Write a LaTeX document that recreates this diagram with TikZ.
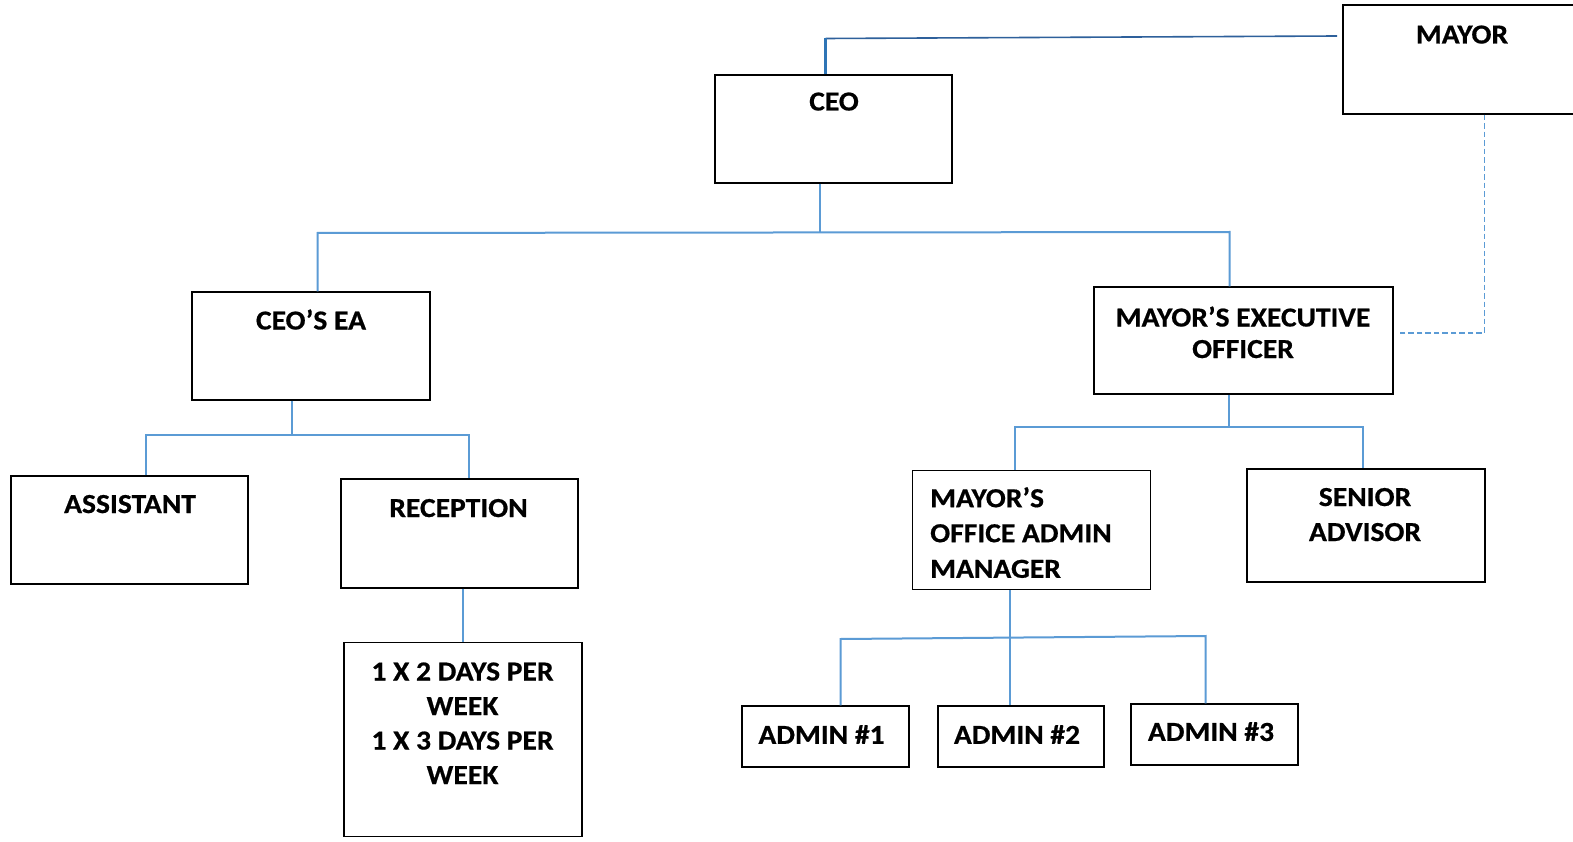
\documentclass[tikz,border=0pt]{standalone}
\usepackage{fontspec}
\setmainfont{Carlito}
\newfontfamily\chartfont{Carlito}[FakeStretch=1.075,BoldFeatures={FakeBold=0.6}]
\begin{document}
\begin{tikzpicture}[x=1pt,y=-1pt,
  box/.style={draw=black,line width=1.3pt,fill=white,inner sep=0pt},
  lbl/.style={anchor=base,inner sep=0pt,font=\chartfont\fontsize{27.5}{32}\selectfont\bfseries},
  lbll/.style={lbl,anchor=base west},
  conn/.style={draw={rgb,255:red,91;green,155;blue,213},line width=2pt},
  dotconn/.style={conn,line width=1.6pt,dash pattern=on 5.5pt off 3pt},
  topconn/.style={draw={rgb,255:red,46;green,96;blue,155},line width=1.6pt},
  topdrop/.style={draw={rgb,255:red,46;green,117;blue,182},line width=2.2pt}]
\clip (0,0) rectangle (1573,842);
\fill[white] (0,0) rectangle (1573,842);

% boxes (centre, size)
\node[box,minimum width=240,minimum height=109] (mayor) at (1463,59.5) {};
\node[box,minimum width=237,minimum height=108] (ceo)   at (833.5,129) {};
\node[box,minimum width=238,minimum height=108] (ea)    at (311,346) {};
\node[box,minimum width=299,minimum height=107] (meo)   at (1243.4,340.5) {};
\node[box,minimum width=237,minimum height=108] (asst)  at (129.5,530) {};
\node[box,minimum width=237,minimum height=109] (rec)   at (459.4,533.5) {};
\node[box,minimum width=238,minimum height=194] (part)  at (462.9,739.5) {};
\node[box,minimum width=238,minimum height=119] (moam)  at (1031.4,530) {};
\node[box,minimum width=238,minimum height=113] (snr)   at (1366,525.5) {};
\node[box,minimum width=167,minimum height=61]  (ad1)   at (825.5,736.5) {};
\node[box,minimum width=166,minimum height=61]  (ad2)   at (1021,736.5) {};
\node[box,minimum width=167,minimum height=61]  (ad3)   at (1214.5,734.5) {};

% labels
\node[lbl] (mayor-t) at (1462,43.5) {MAYOR};
\node[lbl] (ceo-t) at (834,110.5) {CEO};
\node[lbl] (ea-t) at (311,329.5) {CEO’S EA};
\node[lbl] (meo-t1) at (1243,326.5) {MAYOR’S EXECUTIVE};
\node[lbl] (meo-t2) at (1243,358) {OFFICER};
\node[lbl] (asst-t) at (130,513) {ASSISTANT};
\node[lbl] (rec-t) at (458.5,517) {RECEPTION};
\node[lbl] (part-t1) at (462.5,680.5) {1 X 2 DAYS PER};
\node[lbl] (part-t2) at (462.5,715) {WEEK};
\node[lbl] (part-t3) at (462.5,749.5) {1 X 3 DAYS PER};
\node[lbl] (part-t4) at (462.5,784) {WEEK};
\node[lbll] (moam-t1) at (930,507.2) {MAYOR’S};
\node[lbll] (moam-t2) at (930,542.2) {OFFICE ADMIN};
\node[lbll] (moam-t3) at (930,577.8) {MANAGER};
\node[lbl] (snr-t1) at (1365,506) {SENIOR};
\node[lbl] (snr-t2) at (1365,541) {ADVISOR};
\node[lbl] (ad1-t) at (821.5,743.9) {ADMIN \#1};
\node[lbl] (ad2-t) at (1017,743.9) {ADMIN \#2};
\node[lbl] (ad3-t) at (1211,740.9) {ADMIN \#3};

% junction points
\coordinate (mj) at (825.5,38.5);
\coordinate (mk) at (1337,36);
\coordinate (j1) at (820,232);
\coordinate (b1l) at (317.5,233);
\coordinate (b1r) at (1229.5,232);
\coordinate (j2) at (291.5,434.5);
\coordinate (b2l) at (145.5,434.5);
\coordinate (b2r) at (469,434.5);
\coordinate (j3) at (1228.5,426.5);
\coordinate (b3l) at (1014.5,426.5);
\coordinate (b3r) at (1362.5,426.5);
\coordinate (j4) at (1010,637.5);
\coordinate (b4l) at (840.5,639);
\coordinate (b4r) at (1205.5,636);
\coordinate (dj) at (1484.5,333);
\coordinate (dk) at (1398,333);

% mayor to ceo
\draw[topconn] (mj) -- (mk);
\draw[topdrop] (ceo.north -| mj) -- (mj);
% dotted line: mayor to executive officer
\draw[dotconn] (mayor.south -| dj) -- (dj) -- (dk);

% ceo tier
\draw[conn] (ceo.south -| j1) -- (j1);
\draw[conn] (ea.north -| b1l) -- (b1l) -- (b1r) -- (meo.north -| b1r);

% ceo's ea tier
\draw[conn] (ea.south -| j2) -- (j2);
\draw[conn] (asst.north -| b2l) -- (b2l) -- (b2r) -- (rec.north -| b2r);
\draw[conn] (rec.south -| part.north) -- (part.north);

% executive officer tier
\draw[conn] (meo.south -| j3) -- (j3);
\draw[conn] (moam.north -| b3l) -- (b3l) -- (b3r) -- (snr.north -| b3r);

% admin tier
\draw[conn] (moam.south -| j4) -- (ad2.north -| j4);
\draw[conn] (ad1.north -| b4l) -- (b4l) -- (b4r) -- (ad3.north -| b4r);
\end{tikzpicture}
\end{document}
